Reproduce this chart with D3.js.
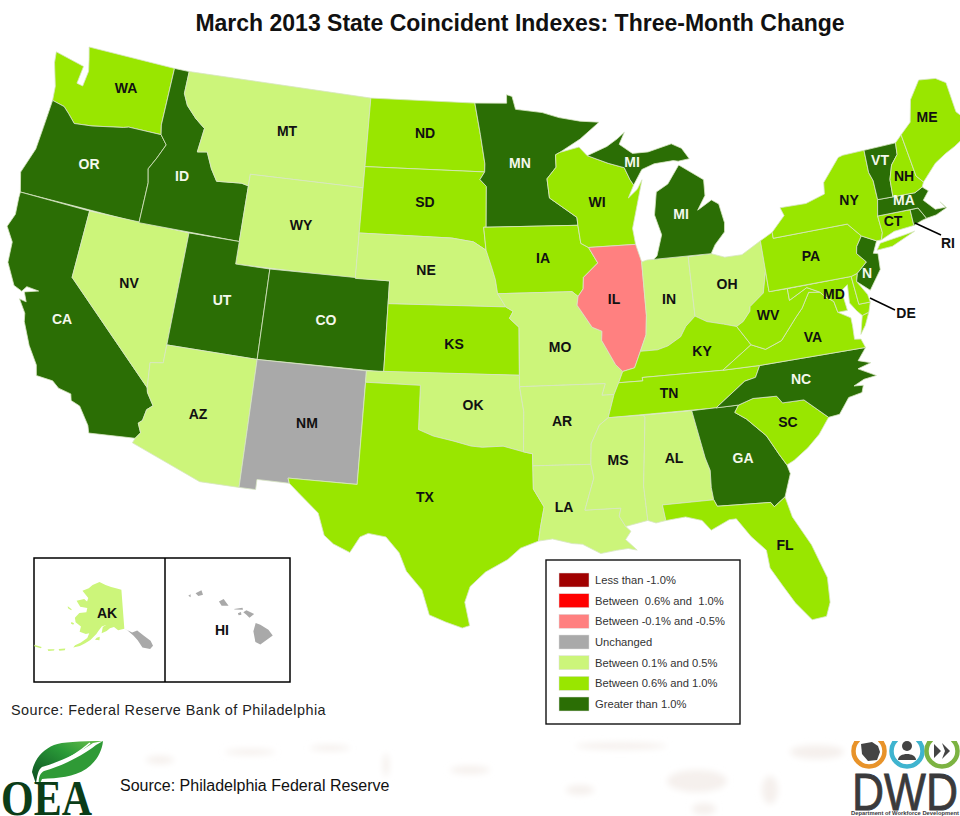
<!DOCTYPE html>
<html><head><meta charset="utf-8">
<style>html,body{margin:0;padding:0;background:#fff}svg{display:block}text{font-family:"Liberation Sans",Arial,sans-serif}</style>
<script src="https://cdnjs.cloudflare.com/ajax/libs/d3/7.8.5/d3.min.js"></script></head><body>
<svg id="c" width="960" height="816"></svg>
<script>
const legendLabels=["Less than -1.0%","Between  0.6% and  1.0%","Between -0.1% and -0.5%","Unchanged","Between 0.1% and 0.5%","Between 0.6% and 1.0%","Greater than 1.0%"];
const legendColors=["#a00000","#ff0000","#ff8080","#a9a9a9","#ccf57a","#99e600","#2b6e05"];
const stateCategory={OR:6,CA:6,ID:6,UT:6,CO:6,MN:6,MI:6,GA:6,NC:6,VT:6,MA:6,RI:6,NJ:6,
WA:5,ND:5,SD:5,KS:5,TX:5,IA:5,WI:5,TN:5,KY:5,WV:5,VA:5,MD:5,DE:5,PA:5,NY:5,ME:5,NH:5,CT:5,SC:5,FL:5,
MT:4,WY:4,NV:4,AZ:4,NE:4,OK:4,MO:4,AR:4,LA:4,MS:4,AL:4,IN:4,OH:4,AK:4,NM:3,HI:3,IL:2};
const stateRings={
WA:[[[-124.7,48.38],[-123.1,48.15],[-122.75,48.1],[-122.85,47.3],[-122.45,47.25],[-122.35,47.95],[-122.55,48.5],[-122.76,49],[-117.03,49],[-117.04,46.42],[-116.92,45.995],[-118.98,46],[-119.3,45.93],[-121.2,45.65],[-122.3,45.55],[-122.8,45.9],[-123.2,46.15],[-124,46.27],[-124.1,46.9],[-124.6,47.9]]],
OR:[[[-124,46.27],[-123.2,46.15],[-122.8,45.9],[-122.3,45.55],[-121.2,45.65],[-119.3,45.93],[-118.98,46],[-116.92,45.995],[-116.47,45.6],[-116.85,44.95],[-117.22,44.4],[-117.03,43.8],[-117.03,42],[-124.21,42],[-124.55,42.84],[-124.1,44],[-124.05,45]]],
CA:[[[-124.21,42],[-120,42],[-120,39],[-114.63,35],[-114.57,34.8],[-114.14,34.27],[-114.43,34.05],[-114.53,33.55],[-114.72,33.4],[-114.5,33],[-114.72,32.72],[-117.12,32.53],[-117.25,32.85],[-117.9,33.6],[-118.4,33.75],[-118.5,34.03],[-119.2,34.15],[-119.6,34.4],[-120.5,34.45],[-120.65,34.9],[-121.3,35.65],[-121.9,36.6],[-122,36.96],[-122.5,37.5],[-122.1,37.45],[-122.35,37.85],[-121.6,38.05],[-122.3,38.1],[-122.5,37.85],[-123,38],[-123.7,38.9],[-123.8,39.8],[-124.35,40.4],[-124.1,41],[-124.2,41.75]]],
NV:[[[-120,42],[-114.04,42],[-114.05,36.2],[-114.75,36.1],[-114.63,35],[-120,39]]],
ID:[[[-117.03,49],[-116.05,49],[-116.05,48],[-115.7,47.5],[-115,47],[-114.35,46.65],[-114.5,45.57],[-113.9,45.65],[-113.45,44.95],[-113,44.45],[-111.5,44.55],[-111.05,44.48],[-111.05,42],[-117.03,42],[-117.03,43.8],[-117.22,44.4],[-116.85,44.95],[-116.47,45.6],[-116.92,45.995],[-117.04,46.42]]],
MT:[[[-116.05,49],[-104.05,49],[-104.05,45],[-111.05,45],[-111.05,44.48],[-111.5,44.55],[-113,44.45],[-113.45,44.95],[-113.9,45.65],[-114.5,45.57],[-114.35,46.65],[-115,47],[-115.7,47.5],[-116.05,48]]],
WY:[[[-111.05,45],[-104.05,45],[-104.05,41],[-111.05,41]]],
UT:[[[-114.04,42],[-111.05,42],[-111.05,41],[-109.05,41],[-109.05,37],[-114.05,37]]],
CO:[[[-109.05,41],[-102.05,41],[-102.05,37],[-109.05,37]]],
AZ:[[[-114.05,37],[-109.05,37],[-109.05,31.33],[-111.07,31.33],[-114.81,32.5],[-114.72,32.72],[-114.5,33],[-114.72,33.4],[-114.53,33.55],[-114.43,34.05],[-114.14,34.27],[-114.57,34.8],[-114.63,35],[-114.75,36.1],[-114.05,36.2]]],
NM:[[[-109.05,37],[-103,37],[-103.04,32],[-106.62,32],[-106.53,31.78],[-108.2,31.78],[-108.2,31.33],[-109.05,31.33]]],
ND:[[[-104.05,49],[-97.23,49],[-96.85,47.6],[-96.55,46.3],[-96.56,45.94],[-104.05,45.94]]],
SD:[[[-104.05,45.94],[-96.56,45.94],[-96.85,45.6],[-96.45,45.3],[-96.45,43.5],[-96.6,43.5],[-96.45,42.49],[-97.2,42.85],[-98.5,43],[-104.05,43]]],
NE:[[[-104.05,43],[-98.5,43],[-97.2,42.85],[-96.45,42.49],[-96.1,41.7],[-95.9,41.2],[-95.77,40.58],[-95.3,40],[-102.05,40],[-102.05,41],[-104.05,41]]],
KS:[[[-102.05,40],[-95.3,40],[-94.9,39.8],[-95.1,39.5],[-94.6,39.1],[-94.62,37],[-102.05,37]]],
OK:[[[-103,37],[-94.62,37],[-94.62,36.5],[-94.43,35.4],[-94.48,33.64],[-95.5,33.9],[-96.6,33.85],[-97.2,33.9],[-98.1,34.1],[-99.2,34.3],[-100,34.56],[-100,36.5],[-103,36.5]]],
TX:[[[-106.62,32],[-103.04,32],[-103,36.5],[-100,36.5],[-100,34.56],[-99.2,34.3],[-98.1,34.1],[-97.2,33.9],[-96.6,33.85],[-95.5,33.9],[-94.48,33.64],[-94.04,33.55],[-94.04,32],[-93.55,31.2],[-93.75,30.3],[-93.85,29.7],[-94.7,29.4],[-95.3,28.9],[-96.4,28.35],[-97.15,27.7],[-97.4,27],[-97.15,25.96],[-97.5,25.85],[-98.3,26.1],[-99.1,26.4],[-99.5,27.5],[-100.3,28.3],[-100.7,29.1],[-101.4,29.77],[-102.3,29.88],[-102.7,29.7],[-103.15,28.98],[-104,29.3],[-104.5,29.65],[-104.9,30.6],[-106,31.4],[-106.53,31.78]]],
MN:[[[-97.23,49],[-95.15,49],[-95.15,49.38],[-94.8,49.3],[-94.6,48.72],[-93,48.55],[-92,48.3],[-90.75,48.1],[-89.5,48],[-90.8,47.3],[-92.05,46.75],[-92.3,46.65],[-92.3,46.1],[-92.85,45.6],[-92.75,44.75],[-91.25,43.85],[-91.22,43.5],[-96.45,43.5],[-96.45,45.3],[-96.85,45.6],[-96.56,45.94],[-96.55,46.3],[-96.85,47.6]]],
IA:[[[-96.45,43.5],[-91.22,43.5],[-91.1,42.7],[-90.65,42.5],[-90.15,41.8],[-91.05,41.2],[-91.1,40.7],[-91.42,40.38],[-91.73,40.6],[-95.77,40.58],[-95.9,41.2],[-96.1,41.7],[-96.45,42.49],[-96.6,43.5]]],
MO:[[[-95.77,40.58],[-91.73,40.6],[-91.42,40.38],[-91.5,40],[-90.7,39],[-90.15,38.8],[-90.2,38.4],[-89.5,37.3],[-89.13,36.98],[-89.4,36.5],[-89.7,36],[-90.37,36],[-90.15,36.5],[-94.62,36.5],[-94.62,37],[-94.6,39.1],[-95.1,39.5],[-94.9,39.8],[-95.3,40]]],
AR:[[[-94.62,36.5],[-90.15,36.5],[-90.37,36],[-89.7,36],[-90.1,35],[-90.6,34.7],[-91.1,33.9],[-91.17,33],[-94.04,33.02],[-94.04,33.55],[-94.48,33.64],[-94.43,35.4]]],
LA:[[[-94.04,33.02],[-91.17,33],[-91.05,32.4],[-91.6,31],[-89.73,31],[-89.85,30.65],[-89.55,30.18],[-89.3,29.95],[-89.6,29.6],[-89.05,29.1],[-89.5,29.2],[-90.1,29.15],[-90.9,29.05],[-91.8,29.5],[-92.3,29.55],[-93.2,29.78],[-93.85,29.7],[-93.75,30.3],[-93.55,31.2],[-94.04,32]]],
WI:[[[-92.05,46.75],[-90.9,46.95],[-90.4,46.55],[-89.1,46.15],[-88.1,45.9],[-87.8,45.35],[-87.6,45.1],[-88,44.55],[-87.4,44.9],[-87.05,45.3],[-87.5,44.2],[-87.9,43.2],[-87.8,42.49],[-90.65,42.5],[-91.1,42.7],[-91.22,43.5],[-91.25,43.85],[-92.75,44.75],[-92.85,45.6],[-92.3,46.1],[-92.3,46.65]]],
IL:[[[-90.65,42.5],[-87.8,42.49],[-87.53,41.7],[-87.53,39.35],[-87.65,38.5],[-88.05,37.8],[-88.45,37.1],[-89.13,36.98],[-89.5,37.3],[-90.2,38.4],[-90.15,38.8],[-90.7,39],[-91.5,40],[-91.42,40.38],[-91.1,40.7],[-91.05,41.2],[-90.15,41.8]]],
IN:[[[-87.53,41.7],[-87.2,41.76],[-84.8,41.76],[-84.82,39.1],[-85.4,38.7],[-85.75,38.27],[-86.5,37.93],[-87.1,37.8],[-88.05,37.8],[-87.65,38.5],[-87.53,39.35]]],
OH:[[[-84.8,41.72],[-83.45,41.73],[-82.7,41.5],[-81.7,41.5],[-80.52,41.98],[-80.52,40.64],[-80.85,39.7],[-81.7,39.2],[-81.75,39],[-82.2,38.6],[-82.6,38.42],[-83.3,38.6],[-84.2,38.8],[-84.82,39.1]]],
MI:[[[-86.82,41.76],[-83.45,41.73],[-83.15,42.1],[-82.5,42.6],[-82.42,43],[-82.6,43.85],[-83,44.07],[-83.9,43.7],[-83.35,44.3],[-83.3,45],[-84.7,45.78],[-85.5,45],[-86.25,44.7],[-86.5,43.7],[-86.2,42.8],[-86.6,41.9]],
[[-90.4,46.55],[-89.1,46.9],[-88.4,47.2],[-87.9,47.47],[-88.3,46.95],[-87.5,46.5],[-86.5,46.5],[-85,46.75],[-84.4,46.5],[-84,46],[-84.7,45.95],[-85,46],[-86.2,45.95],[-87,45.75],[-87.6,45.1],[-87.8,45.35],[-88.1,45.9],[-89.1,46.15]]],
KY:[[[-89.13,36.98],[-88.45,37.1],[-88.05,37.8],[-87.1,37.8],[-86.5,37.93],[-85.75,38.27],[-85.4,38.7],[-84.82,39.1],[-84.2,38.8],[-83.3,38.6],[-82.6,38.42],[-81.97,37.54],[-83.68,36.6],[-88.07,36.65],[-88.05,36.5],[-89.4,36.5]]],
TN:[[[-90.1,35],[-89.7,36],[-89.4,36.5],[-88.05,36.5],[-88.07,36.65],[-83.68,36.6],[-81.68,36.59],[-82,36.1],[-82.6,36],[-84.3,35]]],
MS:[[[-90.1,35],[-88.2,35],[-88.1,34.9],[-88.47,31.9],[-88.4,30.37],[-89.55,30.18],[-89.85,30.65],[-89.73,31],[-91.6,31],[-91.05,32.4],[-91.17,33],[-91.1,33.9],[-90.6,34.7]]],
AL:[[[-88.2,35],[-85.6,35],[-85.18,32.87],[-85,32.3],[-85.05,31.55],[-85,31],[-87.6,31],[-87.5,30.3],[-88,30.23],[-88.4,30.37],[-88.47,31.9],[-88.1,34.9]]],
GA:[[[-85.6,35],[-83.1,35],[-83.35,34.7],[-82.8,34.35],[-81.9,33.5],[-81.4,32.6],[-81.1,32.1],[-81,31.7],[-81.45,30.72],[-82.05,30.36],[-82.2,30.57],[-84.86,30.7],[-85,31],[-85.05,31.55],[-85,32.3],[-85.18,32.87]]],
FL:[[[-87.6,31],[-85,31],[-84.86,30.7],[-82.2,30.57],[-82.05,30.36],[-81.45,30.72],[-81.25,29.8],[-80.55,28.45],[-80.05,26.9],[-80.12,25.8],[-80.4,25.2],[-81.1,25.15],[-81.75,26],[-82.2,26.8],[-82.7,27.7],[-82.75,28.5],[-83.4,29.2],[-84,30.05],[-84.35,30.05],[-85.3,29.68],[-85.7,30.15],[-86.5,30.38],[-87.5,30.3]]],
SC:[[[-83.1,35],[-82.3,35.2],[-81.05,35.15],[-80.8,34.82],[-79.67,34.8],[-78.55,33.86],[-79.2,33.2],[-79.9,32.7],[-80.7,32.25],[-81.1,32.1],[-81.4,32.6],[-81.9,33.5],[-82.8,34.35],[-83.35,34.7]]],
NC:[[[-84.3,35],[-83.1,35],[-82.3,35.2],[-81.05,35.15],[-80.8,34.82],[-79.67,34.8],[-78.55,33.86],[-77.95,33.9],[-77.3,34.55],[-76.55,34.65],[-76.4,34.95],[-76.9,35],[-76.3,35.2],[-75.6,35.25],[-76.5,35.7],[-75.75,35.85],[-76.4,36.05],[-75.85,36.55],[-81.68,36.59],[-82,36.1],[-82.6,36]]],
VA:[[[-83.68,36.6],[-81.68,36.59],[-75.85,36.55],[-76,36.95],[-76.35,37],[-76.3,37.6],[-76.3,37.95],[-76.95,38.3],[-77.05,38.8],[-77.5,39.1],[-77.72,39.32],[-78.35,39.4],[-78.87,38.77],[-79.3,38.42],[-80.3,37.52],[-81.23,37.25],[-81.97,37.54]],
[[-75.95,37.15],[-75.65,37.95],[-75.25,38.03],[-75.6,37.5]]],
WV:[[[-82.6,38.42],[-82.2,38.6],[-81.75,39],[-81.7,39.2],[-80.85,39.7],[-80.52,40.64],[-80.52,39.72],[-79.48,39.72],[-79.48,39.2],[-78.4,39.62],[-77.72,39.32],[-78.35,39.4],[-78.87,38.77],[-79.3,38.42],[-80.3,37.52],[-81.23,37.25],[-81.97,37.54]]],
MD:[[[-79.48,39.72],[-75.79,39.72],[-75.7,38.46],[-75.05,38.45],[-75.25,38.03],[-75.65,37.95],[-75.9,38.2],[-76.2,38.6],[-76.1,39.4],[-76.5,39.2],[-76.4,38.3],[-76.95,38.3],[-77.05,38.8],[-77.5,39.1],[-77.72,39.32],[-78.4,39.62],[-79.48,39.2]]],
DE:[[[-75.79,39.72],[-75.4,39.8],[-75.55,39.45],[-75.1,38.8],[-75.05,38.45],[-75.7,38.46]]],
PA:[[[-80.52,41.98],[-79.76,42.27],[-79.76,42],[-75.35,42],[-74.7,41.36],[-75.1,40.95],[-75.2,40.65],[-74.75,40.2],[-75.4,39.8],[-75.79,39.72],[-80.52,39.72]]],
NJ:[[[-74.7,41.36],[-73.9,41],[-74.25,40.5],[-74,40.45],[-74.1,39.75],[-74.9,38.95],[-75.55,39.45],[-75.4,39.8],[-74.75,40.2],[-75.2,40.65],[-75.1,40.95]]],
NY:[[[-79.76,42.27],[-78.9,42.9],[-79.05,43.27],[-77.5,43.25],[-76.3,43.5],[-76.2,44],[-75,44.95],[-74.7,45],[-73.35,45],[-73.4,44],[-73.25,43.6],[-73.27,42.75],[-73.5,42.05],[-73.5,41.3],[-73.65,41],[-73.9,41],[-74.7,41.36],[-75.35,42],[-79.76,42]],
[[-74,40.6],[-73.75,40.87],[-72.5,41],[-71.9,41.07],[-73.2,40.63]]],
CT:[[[-73.5,42.05],[-71.8,42.02],[-71.85,41.32],[-72.9,41.25],[-73.65,41],[-73.5,41.3]]],
RI:[[[-71.8,42.02],[-71.38,42.02],[-71.12,41.5],[-71.4,41.45],[-71.85,41.32]]],
MA:[[[-73.5,42.05],[-73.27,42.75],[-72.46,42.73],[-71.3,42.7],[-70.85,42.87],[-70.6,42.65],[-71,42.3],[-70.55,41.8],[-70,41.78],[-70.2,42.07],[-69.95,41.75],[-70.6,41.55],[-71.12,41.5],[-71.38,42.02]]],
VT:[[[-73.35,45],[-71.5,45.01],[-71.6,44.5],[-72.05,44.1],[-72.35,43.5],[-72.46,42.73],[-73.27,42.75],[-73.25,43.6],[-73.4,44]]],
NH:[[[-71.5,45.01],[-71.08,45.3],[-70.98,43.4],[-70.7,43.07],[-70.85,42.87],[-71.3,42.7],[-72.46,42.73],[-72.35,43.5],[-72.05,44.1],[-71.6,44.5]]],
ME:[[[-71.08,45.3],[-70.4,45.75],[-70,46.7],[-69.22,47.46],[-68.3,47.35],[-67.8,47.05],[-67.8,45.7],[-67.45,45.3],[-67,44.85],[-68.5,44.25],[-69.1,44.05],[-69.8,43.75],[-70.7,43.07],[-70.98,43.4]]]
};
const alaskaMain=[[[-141,69.65],[-141,60.3],[-144,60],[-146,60.8],[-148,60.5],[-149.5,59.8],[-151.8,59.2],[-151.5,60.7],[-150,61.2],[-152,60.8],[-153.5,59.6],[-154.2,58.9],[-156.5,57.3],[-158.5,56.3],[-160.5,55.4],[-163,54.7],[-162.5,55.3],[-160.5,56.2],[-158,57.6],[-157.5,58.8],[-159,58.5],[-162,58.7],[-162,60],[-165,60.6],[-166,61.6],[-164.5,63],[-161,63.6],[-161,64.6],[-165,64.5],[-168,65.6],[-164,66.5],[-162,66.1],[-161.8,67],[-166.5,68.3],[-163,69.3],[-161,70.3],[-156.6,71.35],[-152,70.8],[-148,70.4],[-144,70]],
[[-154.5,57.5],[-152.5,57.5],[-152.5,58.3],[-153.8,58]],[[-167,60.4],[-165.6,60.3],[-165.8,59.9],[-167,60]],[[-171.5,63.6],[-169,63.3],[-169,63],[-171,63.2]],
[[-168.5,53.3],[-166,53.9],[-166,53.5],[-168,53]],[[-172.5,52.3],[-170,52.9],[-170,52.6],[-172,52]],[[-178,51.9],[-175,52.2],[-175,51.9],[-177.5,51.6]]];
const alaskaSouth=[[[-141,60.3],[-139.5,59.8],[-137,58.4],[-135.5,57.2],[-134,55.3],[-131,54.6],[-129.5,55.2],[-130,56.5],[-132.5,58.1],[-135,59.5],[-137.5,59.2]]];
const hawaiiIslands=[[[-159.78,22.05],[-159.4,22.23],[-159.3,21.95],[-159.6,21.88]],[[-160.25,21.9],[-160.1,21.98],[-160.1,21.8]],[[-158.27,21.55],[-157.97,21.7],[-157.65,21.3],[-158.1,21.3]],[[-157.3,21.1],[-156.75,21.17],[-156.72,21.05],[-157.25,21.07]],[[-157.05,20.85],[-156.85,20.92],[-156.82,20.75],[-157,20.72]],[[-156.7,20.9],[-156.5,21.02],[-156,20.8],[-156.3,20.58],[-156.5,20.75]],[[-155.9,20.25],[-155.6,20.15],[-155.08,19.85],[-154.8,19.5],[-155.6,18.95],[-155.92,19.1],[-156.05,19.75]]];
const labelIds=["WA","OR","CA","NV","ID","MT","WY","UT","CO","AZ","NM","ND","SD","NE","KS","OK","TX","MN","IA","MO","AR","LA","WI","IL","MI","MI","IN","OH","KY","TN","MS","AL","GA","FL","SC","NC","VA","WV","MD","PA","NY","ME","VT","NH","MA","CT","N","RI","DE","AK","HI"];
const labelX=[126,89,62,129,182,287,301,222,326,198,307,425,425,426,454,473,425,520,543,560,562,564,597,614,632,681,669,727,702,669,618,674,743,785,788,801,813,768,834,811,849,927,880,904,904,893,867,948,906,107,222];
const labelY=[88,164,319,283,176,131,225,300,320,414,423,133,202,270,344,405,497,163,258,347,421,507,202,299,162,214,299,284,351,393,460,458,458,545,422,379,337,315,294,256,200,117,160,176,200,221,273,243,313,613,630];
const whiteLabels=["OR","CA","ID","UT","CO","MN","MI","GA","NC","VT","MA","N"];

const svg=d3.select("#c");
const defs=svg.append("defs");
defs.append("filter").attr("id","soft").append("feGaussianBlur").attr("stdDeviation",3);
const grad=defs.append("linearGradient").attr("id","leaf").attr("x1","0").attr("y1","1").attr("x2","1").attr("y2","0");
grad.append("stop").attr("offset","0").attr("stop-color","#0a4a20");grad.append("stop").attr("offset","0.6").attr("stop-color","#2a9a38");grad.append("stop").attr("offset","1").attr("stop-color","#6cc04a");
defs.append("clipPath").attr("id","band").append("rect").attr("x",840).attr("y",741).attr("width",120).attr("height",75);

const conus=d3.geoAlbers().fitExtent([[8,47],[960,628]],{type:"MultiPoint",coordinates:Object.values(stateRings).flat(2)});
const xWarp=d3.scaleLinear().domain([18,265,392,510,572,640,716,800,865,917,950]).range([8,261,390,510,578,646,724,811,877,938,975]);
const projectState=p=>{const q=conus(p);return [xWarp(q[0]),q[1]];};
const line=d3.line();
const ringsPath=(rings,proj)=>rings.map(r=>line(r.map(proj))+"Z").join("");
const map=svg.append("g");
map.selectAll("path").data(Object.keys(stateRings)).join("path")
 .attr("d",k=>ringsPath(stateRings[k],projectState)).attr("fill",k=>legendColors[stateCategory[k]])
 .attr("stroke","#d8e6c4").attr("stroke-width",0.8).attr("stroke-linejoin","round");

// insets
svg.append("rect").attr("x",34).attr("y",558).attr("width",256).attr("height",124).attr("fill","none").attr("stroke","#000").attr("stroke-width",1.5);
svg.append("line").attr("x1",165).attr("x2",165).attr("y1",558).attr("y2",682).attr("stroke","#000").attr("stroke-width",1.5);
const ak=d3.geoConicEqualArea().parallels([55,65]).rotate([146,0]).center([0,62]).scale(240).translate([114,622]);
svg.append("path").attr("d",ringsPath(alaskaMain,ak)).attr("fill",legendColors[4]);
svg.append("path").attr("d",ringsPath(alaskaSouth,ak)).attr("fill",legendColors[3]);
const hi=d3.geoMercator().scale(888).center([-157.3,20.8]).translate([234,614]);
svg.append("path").attr("d",ringsPath(hawaiiIslands,hi)).attr("fill",legendColors[3]);

// callouts
const callouts=[[915,223,941,235],[870,298,895,310]];
svg.selectAll("line.c").data(callouts).join("line").attr("class","c").attr("x1",d=>d[0]).attr("y1",d=>d[1]).attr("x2",d=>d[2]).attr("y2",d=>d[3]).attr("stroke","#000").attr("stroke-width",1.4);

// labels
svg.append("g").selectAll("text").data(labelIds).join("text")
 .attr("x",(d,i)=>labelX[i]).attr("y",(d,i)=>labelY[i]).attr("dy","0.36em").attr("text-anchor","middle")
 .attr("font-weight","bold").attr("font-size",14).attr("fill",d=>whiteLabels.includes(d)?"#f4f8ec":"#111").text(d=>d);

// title
svg.append("text").attr("x",520).attr("y",31).attr("text-anchor","middle").attr("font-weight","bold").attr("font-size",23).attr("fill","#111").text("March 2013 State Coincident Indexes: Three-Month Change");

// legend
svg.append("rect").attr("x",546).attr("y",560).attr("width",194).attr("height",164).attr("fill","#fff").attr("stroke","#111").attr("stroke-width",1.4);
const ly=d3.scalePoint().domain(d3.range(7)).range([580,704]);
const lg=svg.append("g").selectAll("g").data(legendLabels).join("g").attr("transform",(d,i)=>`translate(559,${ly(i)})`);
lg.append("rect").attr("y",-7).attr("width",30).attr("height",14).attr("fill",(d,i)=>legendColors[i]).attr("stroke","#ddd").attr("stroke-width",0.5);
lg.append("text").attr("x",36).attr("dy","0.36em").attr("font-size",11.2).attr("fill","#333").style("white-space","pre").text(d=>d);

svg.append("text").attr("x",11).attr("y",715).attr("font-size",14.4).attr("letter-spacing",0.45).attr("fill","#222").text("Source: Federal Reserve Bank of Philadelphia");

// faint background texture in the footer band
const smudges=[[621,746,46,3.5],[817,752,27,7],[697,781,30,11],[704,809,12,6],[386,765,3,12],[330,748,20,3],[250,752,25,3],[470,770,20,4],[160,760,14,4],[580,790,14,5],[770,790,8,14]];
svg.append("g").attr("filter","url(#soft)").selectAll("ellipse").data(smudges).join("ellipse")
 .attr("cx",d=>d[0]).attr("cy",d=>d[1]).attr("rx",d=>d[2]).attr("ry",d=>d[3]).attr("fill","#f5f0ed");
svg.append("text").attr("x",120).attr("y",791).attr("font-size",16).attr("fill","#111").text("Source: Philadelphia Federal Reserve");

// OEA logo
const oea=svg.append("g");
oea.append("path").attr("d","M103 741 C80 741 62 742 54 745 C42 750 34 760 32 772 L36 784 C37 776 38 770 42 767 C60 762 80 752 93 743Z").attr("fill","url(#leaf)");
oea.append("path").attr("d","M103 741 C102 752 96 762 86 769 C74 777 58 778 42 779 L39 786 C38 778 40 773 44 771 C62 766 82 756 96 745Z").attr("fill","#2f9a36");
oea.append("path").attr("d","M40 770 C60 765 76 755 90 743").attr("fill","none").attr("stroke","#fff").attr("stroke-width",1.6);
oea.append("text").attr("x",1).attr("y",815).attr("font-weight","bold").attr("font-size",50).attr("textLength",91).attr("lengthAdjust","spacingAndGlyphs").attr("fill","#0b3d18").style("font-family","'Liberation Serif',serif").text("OEA");

// DWD logo
const dwd=svg.append("g").attr("clip-path","url(#band)");
const logoRings=[[869,"#e8932a"],[907,"#3fb4cf"],[942,"#7cb342"]];
dwd.selectAll("circle").data(logoRings).join("circle").attr("cx",d=>d[0]).attr("cy",751).attr("r",15.5).attr("fill","#fff").attr("stroke",d=>d[1]).attr("stroke-width",4.5);
dwd.append("path").attr("d","M861 744 L872 742 L878 746 L880 752 L877 760 L868 761 L862 754Z").attr("fill","#444");
dwd.append("circle").attr("cx",907).attr("cy",746).attr("r",5).attr("fill","#444");
dwd.append("path").attr("d","M898 760 C898 752 916 752 916 760Z").attr("fill","#444");
dwd.append("path").attr("d","M934 744 L941 751 L934 758Z M942 743 L950 751 L942 759 L945 751Z").attr("fill","#444");
svg.append("text").attr("x",852).attr("y",810).attr("font-size",51).attr("textLength",106).attr("lengthAdjust","spacingAndGlyphs").attr("fill","#3a3a3c").attr("stroke","#3a3a3c").attr("stroke-width",0.8).text("DWD");
svg.append("text").attr("x",851).attr("y",815).attr("font-size",5.4).attr("font-weight","bold").attr("textLength",108).attr("lengthAdjust","spacingAndGlyphs").attr("fill","#3a3a3c").text("Department of Workforce Development");
</script></body></html>
